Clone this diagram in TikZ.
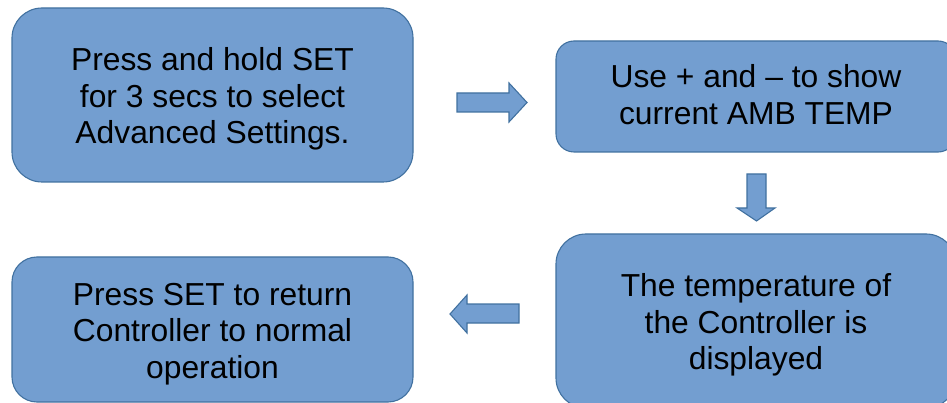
\documentclass[tikz,border=0pt]{standalone}
\usepackage{fontspec}
\setmainfont{Liberation Sans}
\definecolor{boxfill}{RGB}{115,158,208}
\definecolor{boxline}{RGB}{65,113,160}
\newcommand{\boxtext}[2][-5pt]{\raisebox{#1}[\height][\depth]{\begin{tabular}{@{}c@{}}#2\end{tabular}}}
\begin{document}
\begin{tikzpicture}[x=1pt,y=-1pt,
  box/.style={draw=boxline, fill=boxfill, line width=1.1pt, align=center,
    inner sep=0pt, font=\fontsize{31.8}{36.5}\selectfont, text=black},
  blockarrow/.style={draw=boxline, fill=boxfill, line width=1.1pt, line join=miter}]
\useasboundingbox (0,0) rectangle (947,403);
\clip (0,0) rectangle (947,403);
\node[box, rounded corners=30pt, minimum width=401pt, minimum height=174pt] (b1) at (212.5,95)
  {\boxtext{Press and hold SET\\for 3 secs to select\\Advanced Settings.}};
\node[box, rounded corners=18pt, minimum width=400pt, minimum height=111pt] (b2) at (756,96.5)
  {\boxtext[-2pt]{Use + and – to show\\current AMB TEMP}};
\node[box, rounded corners=30pt, minimum width=400pt, minimum height=174pt] (b3) at (756,321)
  {\boxtext{The temperature of\\the Controller is\\displayed}};
\node[box, rounded corners=25pt, minimum width=401pt, minimum height=145pt] (b4) at (212.5,329.5)
  {\boxtext{Press SET to return\\Controller to normal\\operation}};
% block arrows
\draw[blockarrow] (457,93) -- (509,93) -- (509,83) -- (527,102.5) -- (509,122) -- (509,112) -- (457,112) -- cycle;
\draw[blockarrow] (747,174) -- (766,174) -- (766,208) -- (775,208) -- (756.5,221) -- (737,208) -- (747,208) -- cycle;
\draw[blockarrow] (519,304) -- (467,304) -- (467,295) -- (450,314) -- (467,333) -- (467,323) -- (519,323) -- cycle;
\end{tikzpicture}
\end{document}
